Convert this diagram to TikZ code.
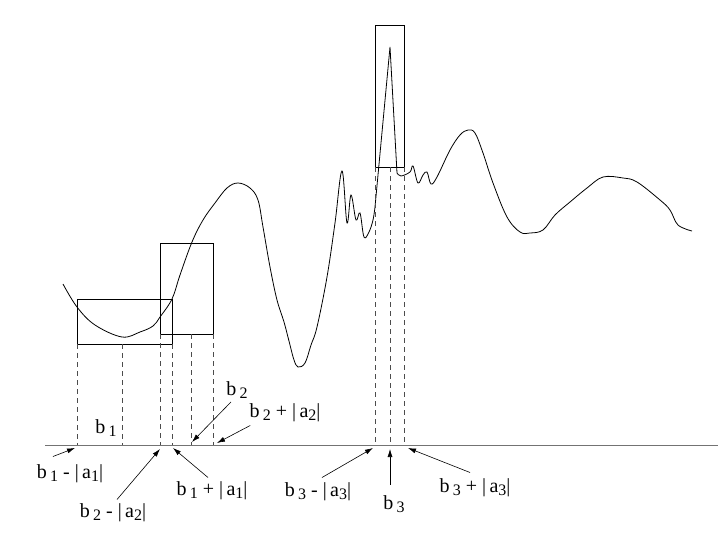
\documentclass[tikz,border=0pt]{standalone}
\usepackage{fontspec}
\setmainfont{Liberation Serif}
\usetikzlibrary{arrows.meta}

\newcommand{\sbs}[1]{\,\raisebox{-0.35ex}{\fontsize{16}{16}\selectfont #1}}
\newcommand{\sba}[1]{\raisebox{-0.35ex}{\fontsize{16}{16}\selectfont #1}}

\begin{document}
\begin{tikzpicture}[x = 1pt, y = -1pt, line width = 0.8pt,
		guide/.style = {dash pattern = on 5pt off 4pt, draw = black!70, line width = 0.7pt},
		pointer/.style = {-{Latex[length = 8pt, width = 5pt]}, line width = 0.6pt},
		lbl/.style = {font = \fontsize{20}{24}\selectfont, inner sep = 0pt}]
	
		\useasboundingbox (0, 0) rectangle (718, 538);
		
		% the signal
		\draw plot[smooth, tension = 0.6] coordinates {(63, 284) (77, 307) (95, 325) (122, 337) (140, 332) (153, 326) (160, 317) (172, 299) (180, 275) (192, 242) (203, 220) (215, 203) (227, 188) (238, 183) (250, 188) (258, 200) (263, 227) (270, 267) (277, 300) (284, 322) (290, 345) (294, 360) (298, 367) (305, 363) (311, 345) (317, 327) (327, 277) (335, 223) (342, 171) (347, 223) (351, 195) (356, 220) (360, 213) (364, 237) (369, 232) (373, 220) (375, 207)}
			-- (390, 47) -- (397, 173)
			plot[smooth, tension = 0.6] coordinates {(397, 173) (401, 176) (410, 172) (413, 166) (418, 183) (423, 175) (427, 172) (431, 184) (437, 177) (450, 150) (460, 135) (468, 130) (475, 133) (483, 153) (493, 183) (507, 217) (520, 232) (530, 233) (543, 230) (555, 215) (570, 202) (587, 188) (603, 177) (623, 178) (637, 182) (660, 200) (670, 210) (678, 225) (692, 231)};
		
		% windows
		\draw[line width = 0.7pt] (77, 299) rectangle (172, 344);
		\draw[line width = 0.7pt] (160, 243) rectangle (213, 334);
		\draw[line width = 0.7pt] (375, 25) rectangle (404, 167);
		
		% axis
		\coordinate (axisL) at (45, 445);
		\coordinate (axisR) at (718, 445);
		\draw[draw = black!55, line width = 1pt] (axisL) -- (axisR);
		
		\foreach \x in {77, 122, 172}
			\draw[guide] (\x, 344) -- (\x, 445);
		\foreach \x in {160, 191, 213}
			\draw[guide] (\x, 334) -- (\x, 445);
		\foreach \x in {375, 390, 404}
			\draw[guide] (\x, 167) -- (\x, 445);
		
		% labels
		\node[lbl] (b1) at (106, 428) {b\sbs{1}};
		\node[lbl] (b2) at (237, 390) {b\sbs{2}};
		\node[lbl] (b2p) at (285, 413) {b\sbs{2} + |\,a\sba{2}|};
		\node[lbl] (b1m) at (70, 474) {b\sbs{1} - |\,a\sba{1}|};
		\node[lbl] (b2m) at (113, 513) {b\sbs{2} - |\,a\sba{2}|};
		\node[lbl] (b1p) at (212, 491) {b\sbs{1} + |\,a\sba{1}|};
		\node[lbl] (b3m) at (318, 492) {b\sbs{3} - |\,a\sba{3}|};
		\node[lbl] (b3) at (394, 504) {b\sbs{3}};
		\node[lbl] (b3p) at (475, 488) {b\sbs{3} + |\,a\sba{3}|};
		
		\coordinate (t1m) at (75, 448);
		\coordinate (t2m) at (160, 449);
		\coordinate (t1p) at (173, 448);
		\coordinate (t2) at (192, 442);
		\coordinate (t2p) at (217, 443);
		\coordinate (t3m) at (373, 448);
		\coordinate (t3) at (390, 449);
		\coordinate (t3p) at (408, 448);
		
		\draw[pointer] ([xshift = -17pt, yshift = 8pt] b1m.north) -- (t1m);
		\draw[pointer] ([xshift = 4pt, yshift = 4pt] b2m.north) -- (t2m);
		\draw[pointer] ([xshift = -4pt, yshift = 4pt] b1p.north) -- (t1p);
		\draw[pointer] ([xshift = -6pt, yshift = -3pt] b2.south) -- (t2);
		\draw[pointer] ([xshift = 1pt, yshift = -3pt] b2p.south west) -- (t2p);
		\draw[pointer] ([xshift = 4pt, yshift = 5pt] b3m.north) -- (t3m);
		\draw[pointer] ([xshift = -4pt, yshift = 10pt] b3.north) -- (t3);
		\draw[pointer] ([xshift = -5pt, yshift = 6pt] b3p.north) -- (t3p);
	
	\end{tikzpicture}
\end{document}
